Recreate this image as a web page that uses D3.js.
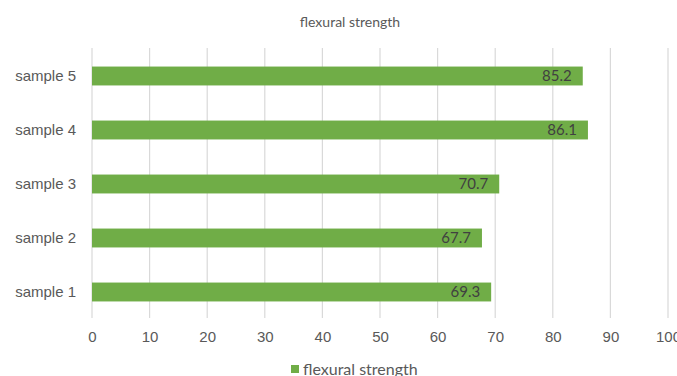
<!DOCTYPE html>
<html>
<head>
<meta charset="utf-8">
<script src="https://cdn.jsdelivr.net/npm/d3@7"></script>
<style>
body { margin: 0; background: #fff; }
svg { font-family: Lato, "Open Sans", sans-serif; }
</style>
</head>
<body>
<svg width="677" height="376"></svg>
<script>
var samples = ["sample 1", "sample 2", "sample 3", "sample 4", "sample 5"];
var strength = [69.3, 67.7, 70.7, 86.1, 85.2];
var xTicks = [0, 10, 20, 30, 40, 50, 60, 70, 80, 90, 100];

var svg = d3.select("svg");
var plotLeft = 92, plotRight = 668, plotTop = 49, plotBottom = 319;

var x = d3.scaleLinear().domain([0, 100]).range([plotLeft, plotRight]);
var y = d3.scaleBand().domain(samples.slice().reverse()).range([plotTop, plotBottom])
    .paddingInner(0.65).paddingOuter(0.325);

// title
svg.append("text").attr("x", 350).attr("y", 22).attr("dy", "0.35em").attr("text-anchor", "middle")
    .attr("font-size", "14px").attr("fill", "#595959").text("flexural strength");

// gridlines
svg.append("g").selectAll("line").data(xTicks).enter().append("line")
    .attr("x1", function(d){ return x(d); }).attr("x2", function(d){ return x(d); })
    .attr("y1", plotTop - 1).attr("y2", plotBottom - 1)
    .attr("stroke", "#d9d9d9").attr("stroke-width", 1.2);

// x axis labels
var xa = svg.append("g").attr("transform", "translate(0," + plotBottom + ")")
    .call(d3.axisBottom(x).tickValues(xTicks).tickSize(0).tickPadding(12));
xa.select(".domain").remove();
xa.selectAll("text").attr("font-size", "15px").attr("fill", "#595959").attr("font-family", null);

// y axis labels
var ya = svg.append("g").attr("transform", "translate(" + plotLeft + ",0)")
    .call(d3.axisLeft(y).tickSize(0).tickPadding(16));
ya.select(".domain").remove();
ya.selectAll("text").attr("font-size", "15px").attr("fill", "#595959").attr("font-family", null);

var rows = samples.map(function(s, i){ return {name: s, value: strength[i]}; });

svg.append("g").selectAll("rect").data(rows).enter().append("rect")
    .attr("x", x(0))
    .attr("y", function(d){ return y(d.name); })
    .attr("width", function(d){ return x(d.value) - x(0); })
    .attr("height", y.bandwidth())
    .attr("fill", "#70ad47");

svg.append("g").selectAll("text").data(rows).enter().append("text")
    .attr("x", function(d){ return x(d.value) - 11; })
    .attr("y", function(d){ return y(d.name) + y.bandwidth() / 2; })
    .attr("dy", "0.35em").attr("text-anchor", "end")
    .attr("font-size", "15px").attr("fill", "#404040")
    .text(function(d){ return d.value.toFixed(1); });

// legend
var lg = svg.append("g").attr("transform", "translate(291,365)");
lg.append("rect").attr("x", 0).attr("y", 0).attr("width", 8).attr("height", 8).attr("fill", "#70ad47");
lg.append("text").attr("x", 12).attr("y", 4).attr("dy", "0.35em").attr("font-size", "16px").attr("fill", "#595959").text("flexural strength");
</script>
</body>
</html>
